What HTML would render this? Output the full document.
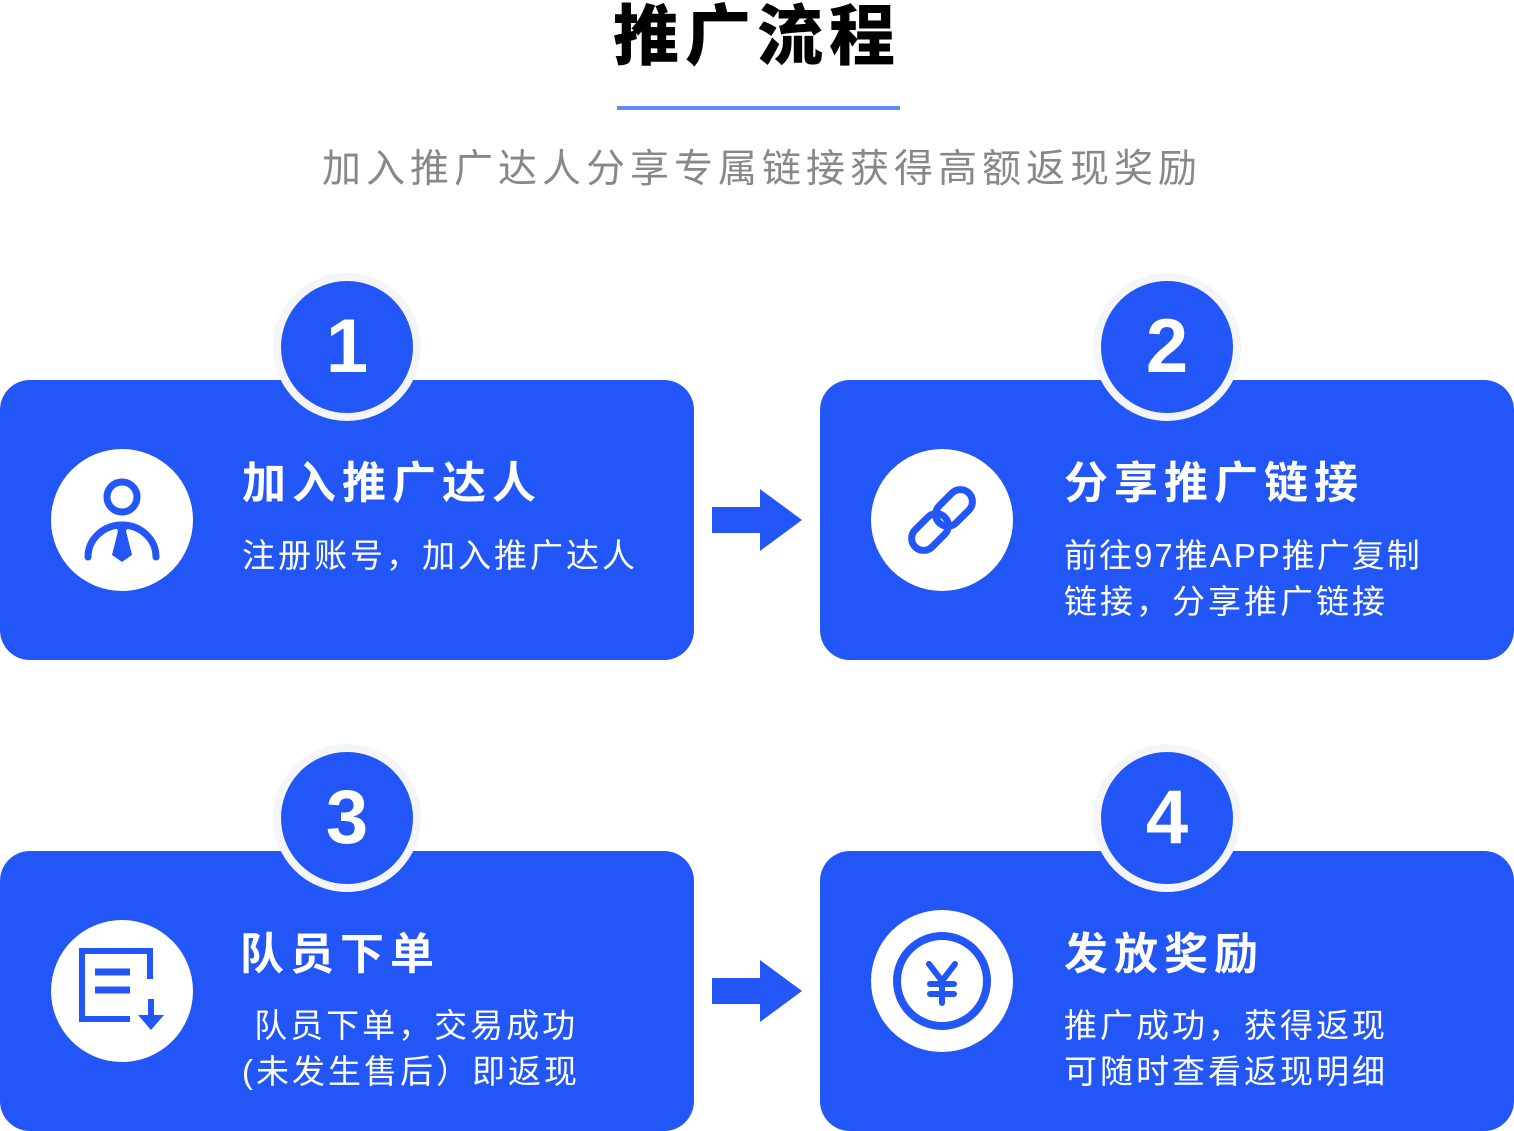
<!DOCTYPE html>
<html><head><meta charset="utf-8"><style>
body{margin:0;width:1514px;height:1131px;background:#fff;position:relative;overflow:hidden;font-family:"Liberation Sans","Noto Sans CJK SC",sans-serif}
.a{position:absolute}
.card{position:absolute;width:694px;height:280px;background:#2256f6;border-radius:30px}
.num{position:absolute;width:132px;height:132px;border-radius:50%;background:#2256f6;border:8px solid #f3f5f9;color:#fff;font:bold 76px/132px "Liberation Sans",sans-serif;text-align:center}
.ic{position:absolute;width:142px;height:142px;border-radius:50%;background:#fff}
.t{position:absolute;color:#fff;font-weight:bold;font-size:44px;line-height:60px;letter-spacing:6px;white-space:nowrap}
.s{position:absolute;color:#fff;font-size:33px;line-height:46px;letter-spacing:3px;white-space:nowrap}
</style></head><body>
<div class="a" style="left:0;width:1514px;top:-4px;text-align:center;font-size:66px;font-weight:900;letter-spacing:6px;line-height:80px">推广流程</div>
<div class="a" style="left:617px;top:106px;width:283px;height:4px;background:#5b8ef5"></div>
<div class="a" style="left:5px;width:1514px;top:142px;text-align:center;font-size:39px;color:#888;letter-spacing:5px;line-height:56px">加入推广达人分享专属链接获得高额返现奖励</div>

<div class="card" style="left:0;top:380px"></div>
<div class="card" style="left:820px;top:380px"></div>
<div class="card" style="left:0;top:851px"></div>
<div class="card" style="left:820px;top:851px"></div>

<div class="num" style="left:273px;top:273px">1</div>
<div class="num" style="left:1093px;top:273px">2</div>
<div class="num" style="left:273px;top:744px">3</div>
<div class="num" style="left:1093px;top:744px">4</div>

<div class="ic" style="left:51px;top:449px"></div>
<div class="ic" style="left:871px;top:449px"></div>
<div class="ic" style="left:51px;top:920px"></div>
<div class="ic" style="left:871px;top:910px"></div>

<svg class="a" style="left:0;top:0" width="1514" height="1131">
<g fill="none" stroke="#2256f6" stroke-width="7" stroke-linecap="round">
<circle cx="122" cy="497" r="15"/>
<path d="M88 557 A34 32 0 0 1 156 557"/>
<g transform="rotate(-45 942 520)">
<rect x="904" y="508" width="42" height="24" rx="12"/>
<rect x="938" y="508" width="42" height="24" rx="12"/>
</g>
<circle cx="942" cy="981" r="45" stroke-width="8"/>
<path d="M929 964 l13 17 l13 -17 M942 981 v22 M930 984 h24 M930 994 h24" stroke-width="6"/>
</g>
<path d="M114 523 h16 l-4 8 l6 24 l-10 7 l-10 -7 l6 -24z" fill="#2256f6"/>
<g fill="none" stroke="#2256f6" stroke-width="6">
<path d="M130 1019 h-48 v-68 h68 v28"/>
<path d="M95 972 h35 M95 990 h35" stroke-width="7"/>
</g>
<path d="M148 999 h6 v16 h10 l-13 15 l-13 -15 h10z" fill="#2256f6"/>
<path d="M712 507 h48 v-18 l42 31 l-42 31 v-18 h-48z" fill="#2256f6"/>
<path d="M712 978 h48 v-18 l42 31 l-42 31 v-18 h-48z" fill="#2256f6"/>
</svg>

<div class="t" style="left:242px;top:454px">加入推广达人</div>
<div class="s" style="left:242px;top:533px">注册账号，加入推广达人</div>
<div class="t" style="left:1064px;top:454px">分享推广链接</div>
<div class="s" style="left:1064px;top:533px;letter-spacing:2px">前往97推APP推广复制<br><span style="letter-spacing:3px">链接，分享推广链接</span></div>
<div class="t" style="left:240px;top:925px">队员下单</div>
<div class="s" style="left:242px;top:1003px">&nbsp;队员下单，交易成功<br>(未发生售后）即返现</div>
<div class="t" style="left:1064px;top:925px">发放奖励</div>
<div class="s" style="left:1064px;top:1003px">推广成功，获得返现<br>可随时查看返现明细</div>
</body></html>
